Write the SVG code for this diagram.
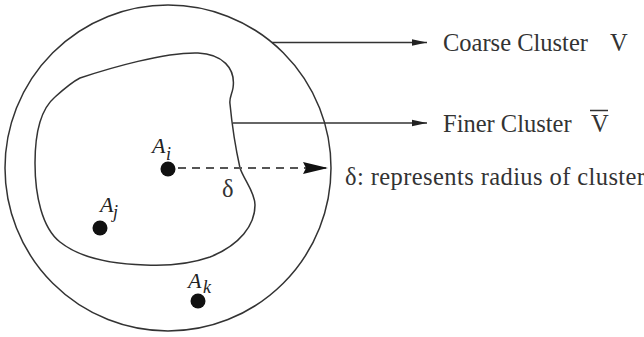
<svg xmlns="http://www.w3.org/2000/svg" width="644" height="337" viewBox="0 0 644 337">
<style>
.ln{fill:none;stroke:#333;stroke-width:1.5}
.t{font-family:"Liberation Serif",serif;font-size:24.5px;fill:#333}
.m{font-family:"Liberation Serif",serif;font-style:italic;font-size:22px;fill:#222}
.s{font-family:"Liberation Serif",serif;font-style:italic;font-size:18px;fill:#222}
.dot{fill:#111}
</style>
<defs>
<marker id="ah" markerUnits="userSpaceOnUse" markerWidth="16" markerHeight="8" refX="15" refY="4" orient="auto">
<path d="M0,0.8 L15,4 L0,7.2 Z" fill="#222"/>
</marker>
<marker id="ahb" markerUnits="userSpaceOnUse" markerWidth="26" markerHeight="14" refX="25" refY="7" orient="auto">
<path d="M0,1 L25,7 L0,13 L3,7 Z" fill="#111"/>
</marker>
</defs>
<g id="coarse-cluster">
<circle class="ln" cx="168" cy="168" r="163"/>
</g>
<g id="finer-cluster">
<path class="ln" d="M35,163 C35,130 42,108 55,97 C65,88 72,82 80,78 C110,68 165,52 198,53 C222,54 236,68 233,88 C232,94 229,98 230,104 C232,125 236,150 240,168 C244,180 255,192 255,205 C255,225 240,245 210,257 C190,264 165,266 145,265 C110,264 80,258 60,242 C42,228 35,195 35,163 Z"/>
</g>
<g id="point-ai">
<circle class="dot" cx="168" cy="169" r="7.5"/>
<text class="m" x="152" y="153">A</text><text class="s" x="166" y="160">i</text>
</g>
<g id="point-aj">
<circle class="dot" cx="100" cy="228" r="7.5"/>
<text class="m" x="100" y="212">A</text><text class="s" x="113" y="218">j</text>
</g>
<g id="point-ak">
<circle class="dot" cx="198" cy="301" r="7.5"/>
<text class="m" x="188" y="288">A</text><text class="s" x="203" y="293">k</text>
</g>
<g id="connectors">
<line class="ln" x1="272" y1="42.5" x2="427" y2="42.5" marker-end="url(#ah)"/>
<line class="ln" x1="233" y1="123" x2="427" y2="123" marker-end="url(#ah)"/>
<line x1="178" y1="168" x2="328" y2="168" stroke="#555" stroke-width="2" stroke-dasharray="8,6" marker-end="url(#ahb)"/>
</g>
<g id="labels">
<text class="t" x="443" y="50.5">Coarse Cluster</text>
<text class="t" x="610" y="50.5">V</text>
<text class="t" x="443" y="131.5">Finer Cluster</text>
<text class="t" x="591" y="131.5">V</text>
<line x1="590" y1="110.5" x2="608" y2="110.5" stroke="#333" stroke-width="1.5"/>
<text class="t" x="345" y="185" textLength="300" lengthAdjust="spacing">δ: represents radius of cluster</text>
<text class="t" x="222" y="197">δ</text>
</g>
</svg>
